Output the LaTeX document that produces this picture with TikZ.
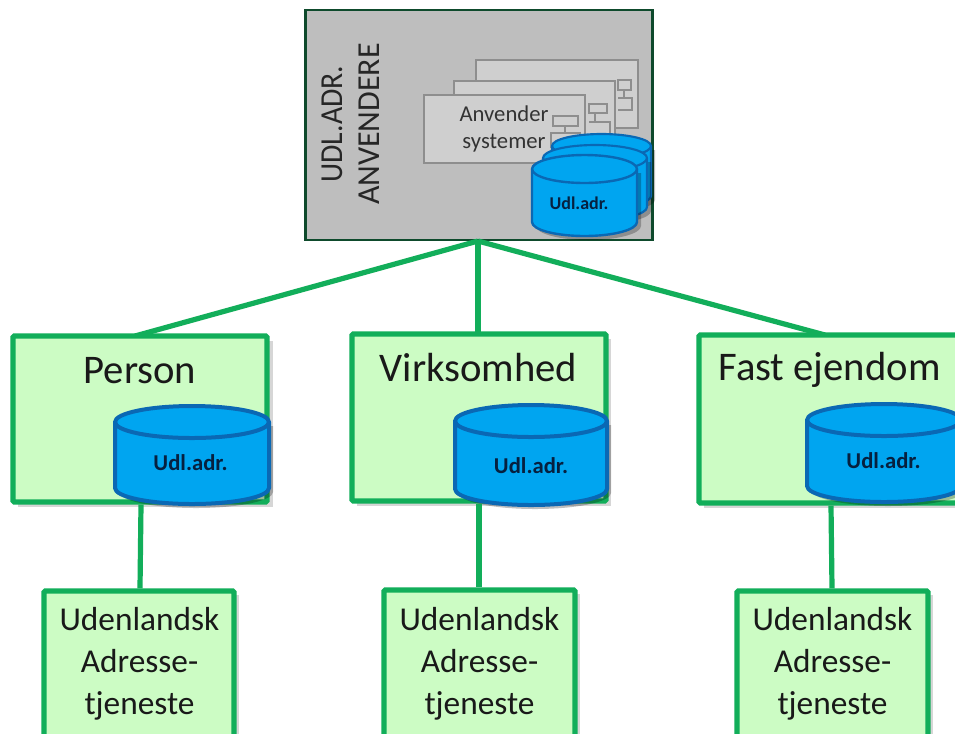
\documentclass[tikz,border=0pt]{standalone}
\usepackage{fontspec}
\setmainfont{Carlito}
\definecolor{grline}{HTML}{12AE5A}
\definecolor{grfill}{HTML}{CCFCC4}
\definecolor{cylfill}{HTML}{00A5F0}
\definecolor{cylline}{HTML}{0A68B4}
\definecolor{panel}{HTML}{BEBEBE}
\definecolor{panelline}{HTML}{0E4A2C}
\definecolor{sysfill}{HTML}{CFCFCF}
\definecolor{sysline}{HTML}{8E8E8E}
\definecolor{cyltext}{HTML}{06203F}
\tikzset{
  x=0.75pt,y=-0.75pt,
  greenbox/.style={draw=grline,fill=grfill,line width=4pt,rounded corners=1pt,inner sep=0pt},
  boxshade/.style={fill=black!45,opacity=0.35,draw=none},
  link/.style={draw=grline,line width=3.9pt},
  big/.style={font=\fontsize{30.5}{36}\selectfont,text=black!90},
  svc/.style={font=\fontsize{25}{31.5}\selectfont,align=center,text=black!90},
  cyllabel/.style={font=\bfseries\fontsize{17}{20}\selectfont,text=cyltext},
  sysbox/.style={draw=sysline,fill=sysfill,line width=1pt},
  icon/.style={draw=sysline,line width=1pt},
}
% \cyl{left}{top}{right}{bottom}{ry}{line width}
\newcommand{\cyl}[6]{%
  \pgfmathsetmacro{\cx}{(#1+#3)/2}%
  \pgfmathsetmacro{\kx}{0.5523*(#3-#1)/2}%
  \pgfmathsetmacro{\ky}{0.5523*#5}%
  \begin{scope}[shift={(4,4)}]
    \fill[black,opacity=0.25] (#1,#2+#5) -- (#1,#4-#5)
      .. controls (#1,#4-#5+\ky) and (\cx-\kx,#4) .. (\cx,#4)
      .. controls (\cx+\kx,#4) and (#3,#4-#5+\ky) .. (#3,#4-#5)
      -- (#3,#2+#5) -- cycle;
  \end{scope}
  \draw[draw=cylline,fill=cylfill,line width=#6,line join=round] (#1,#2+#5) -- (#1,#4-#5)
    .. controls (#1,#4-#5+\ky) and (\cx-\kx,#4) .. (\cx,#4)
    .. controls (\cx+\kx,#4) and (#3,#4-#5+\ky) .. (#3,#4-#5)
    -- (#3,#2+#5)
    .. controls (#3,#2+#5-\ky) and (\cx+\kx,#2) .. (\cx,#2)
    .. controls (\cx-\kx,#2) and (#1,#2+#5-\ky) .. (#1,#2+#5) -- cycle;
  \draw[draw=cylline,line width=#6] (#1,#2+#5)
    .. controls (#1,#2+#5+\ky) and (\cx-\kx,#2+2*#5) .. (\cx,#2+2*#5)
    .. controls (\cx+\kx,#2+2*#5) and (#3,#2+#5+\ky) .. (#3,#2+#5);
}
\begin{document}
\begin{tikzpicture}
\useasboundingbox (0,0) rectangle (955,733);
\clip (0,0) rectangle (955,733);
\fill[white] (0,0) rectangle (955,733);

% top panel
\node[draw=panelline,fill=panel,line width=1.6pt,minimum width=347*0.75pt,minimum height=230*0.75pt,inner sep=0pt] (top) at (479,125) {};
\node[rotate=90,align=center,font=\fontsize{24}{28}\selectfont,text=black!85] (title) at (351,124) {\scalebox{0.93}[1]{UDL.ADR.}\\ANVENDERE};

% system boxes
\node[sysbox,minimum width=162*0.75pt,minimum height=68*0.75pt,inner sep=0pt] (sysc) at (557,94) {};
\draw[icon] (618,80) rectangle (631,90);
\draw[icon] (618,98) -- (632,98) -- (632,110) -- (618,110);
\draw[icon] (624,90) -- (624,98);
\node[sysbox,minimum width=161*0.75pt,minimum height=62*0.75pt,inner sep=0pt] (sysb) at (534.5,112) {};
\draw[icon] (589,104) rectangle (607,113);
\draw[icon] (589,122) -- (610,122) -- (610,136) -- (589,136);
\draw[icon] (595,113) -- (595,122);
\node[sysbox,minimum width=161*0.75pt,minimum height=68*0.75pt,inner sep=0pt] (sysa) at (504.5,129) {};
\node[align=center,font=\fontsize{17}{20}\selectfont,text=black!80] (syst) at (504,129) {Anvender\\systemer};
\draw[icon] (553,116) rectangle (578,126);
\draw[icon] (551,133) rectangle (580,147);
\draw[icon] (565,126) -- (565,133);

% top cylinders
\cyl{552}{134}{651}{208}{12}{1.6pt}
\cyl{543}{145}{647}{220}{13}{1.6pt}
\cyl{532}{155}{637}{236}{14}{1.8pt}
\node[cyllabel,font=\bfseries\fontsize{13.5}{16}\selectfont] (cyltop) at (579,203) {Udl.adr.};

% connectors
\node[inner sep=0pt] (hub) at (478,241) {};
\coordinate (pin1) at (135,336);
\coordinate (pin2) at (478,334);
\coordinate (pin3) at (825,335);
\draw[link] (hub.center) -- (pin1);
\draw[link] (hub.center) -- (pin2);
\draw[link] (hub.center) -- (pin3);

% service boxes
\fill[boxshade] (18,341) rectangle (273,507);
\node[greenbox,minimum width=254*0.75pt,minimum height=166*0.75pt] (person) at (140,419) {};
\node[big] (tperson) at (140,371) {Person};
\fill[boxshade] (357,339) rectangle (611,506);
\node[greenbox,minimum width=254*0.75pt,minimum height=167*0.75pt] (virk) at (479,417.5) {};
\node[big] (tvirk) at (478.5,368) {Virksomhed};
\fill[boxshade] (704,340) rectangle (960,508);
\node[greenbox,minimum width=262*0.75pt,minimum height=168*0.75pt] (fast) at (830,419) {};
\node[big] (tfast) at (829.5,370) {Fast ejendom};

\cyl{115}{406}{269}{504}{16}{3pt}
\node[cyllabel] (c1) at (190.5,463) {Udl.adr.};
\cyl{455}{405}{607}{505}{16}{3pt}
\node[cyllabel] (c2) at (531,466) {Udl.adr.};
\cyl{807}{404}{961}{502}{16}{3pt}
\node[cyllabel] (c3) at (883.5,461) {Udl.adr.};

% bottom boxes
\fill[boxshade] (48,595) rectangle (239,740);
\node[greenbox,minimum width=190*0.75pt,minimum height=160*0.75pt] (ud1) at (139,671) {};
\node[svc] (tud1) at (139.5,664) {Udenlandsk\\Adresse-\\tjeneste};
\fill[boxshade] (388,594) rectangle (580,740);
\node[greenbox,minimum width=191*0.75pt,minimum height=160*0.75pt] (ud2) at (479.5,670) {};
\node[svc] (tud2) at (479.5,663.5) {Udenlandsk\\Adresse-\\tjeneste};
\fill[boxshade] (741,595) rectangle (933,740);
\node[greenbox,minimum width=191*0.75pt,minimum height=160*0.75pt] (ud3) at (832.5,671) {};
\node[svc] (tud3) at (832.5,664) {Udenlandsk\\Adresse-\\tjeneste};

\draw[link] (person.south -| 141,0) -- (ud1.north -| 140,0);
\draw[link] (virk.south -| 479,0) -- (ud2.north -| 479,0);
\draw[link] (fast.south -| 831,0) -- (ud3.north -| 832,0);
\end{tikzpicture}
\end{document}
